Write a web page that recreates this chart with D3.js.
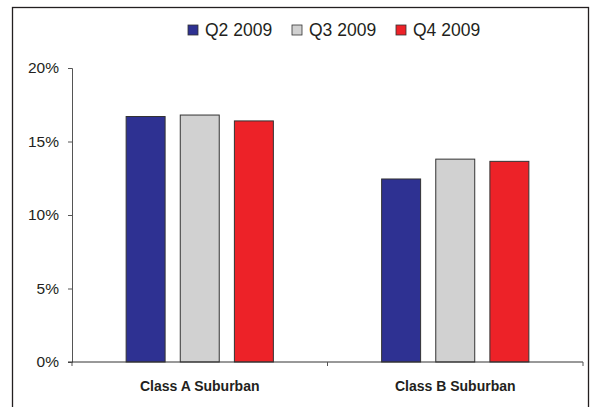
<!DOCTYPE html>
<html>
<head>
<meta charset="utf-8">
<script src="https://cdnjs.cloudflare.com/ajax/libs/d3/7.8.5/d3.min.js"></script>
<style>
  body { margin: 0; background: #fff; }
  svg text { font-family: "Liberation Sans", Arial, sans-serif; fill: #231f20; }
</style>
</head>
<body>
<script>
var width = 597,
    height = 407;

// data
var categories = ["Class A Suburban", "Class B Suburban"];
var series = ["Q2 2009", "Q3 2009", "Q4 2009"];
var colors = ["#2e3192", "#d1d1d1", "#ed2228"];
var q2 = [16.7, 12.45];
var q3 = [16.8, 13.8];
var q4 = [16.4, 13.65];
var yTicks = [0, 5, 10, 15, 20];

var values = [q2, q3, q4];

var margin = {left: 72, right: 14, top: 68, bottom: 45};

var svg = d3.select("body").append("svg")
    .attr("width", width)
    .attr("height", height);

// outer frame
svg.append("rect")
    .attr("x", 12.5).attr("y", 7.5)
    .attr("width", 576).attr("height", 420)
    .attr("fill", "none")
    .attr("stroke", "#231f20")
    .attr("stroke-width", 1.3);

var x0 = d3.scaleBand()
    .domain(categories)
    .range([margin.left, width - margin.right]);

var x1 = d3.scaleBand()
    .domain(series)
    .range([0, x0.bandwidth()])
    .paddingInner(0.28)
    .paddingOuter(1.0);

var y = d3.scaleLinear()
    .domain([0, 20])
    .range([height - margin.bottom, margin.top]);

// y axis
var yAxis = svg.append("g")
    .attr("transform", "translate(" + margin.left + ",0)")
    .call(d3.axisLeft(y).tickValues(yTicks).tickSize(4).tickPadding(9)
      .tickFormat(function(d) { return d + "%"; }));
yAxis.select(".domain").attr("stroke", "#555");
yAxis.selectAll(".tick line").attr("stroke", "#555");
yAxis.selectAll("text").style("font-size", "15.5px").attr("fill", "#231f20");

// bars
var groups = svg.selectAll("g.cat")
    .data(categories)
    .enter().append("g")
    .attr("class", "cat")
    .attr("transform", function(d) { return "translate(" + x0(d) + ",0)"; });

groups.selectAll("rect")
    .data(function(d, ci) { return series.map(function(s, si) { return {s: s, si: si, v: values[si][ci]}; }); })
    .enter().append("rect")
    .attr("x", function(d) { return x1(d.s); })
    .attr("y", function(d) { return y(d.v); })
    .attr("width", x1.bandwidth())
    .attr("height", function(d) { return y(0) - y(d.v); })
    .attr("fill", function(d) { return colors[d.si]; })
    .attr("stroke", "#333")
    .attr("stroke-width", 1);

// x axis
var xAxis = svg.append("g")
    .attr("transform", "translate(0," + y(0) + ")");
xAxis.append("line")
    .attr("x1", margin.left - 4).attr("x2", width - margin.right)
    .attr("stroke", "#333");
var xTickPos = [margin.left].concat(categories.map(function(c) { return x0(c) + x0.bandwidth(); }));
xAxis.selectAll("line.xt")
    .data(xTickPos)
    .enter().append("line")
    .attr("class", "xt")
    .attr("x1", function(d) { return d; }).attr("x2", function(d) { return d; })
    .attr("y1", 0).attr("y2", 4)
    .attr("stroke", "#555");
xAxis.selectAll("text")
    .data(categories)
    .enter().append("text")
    .attr("x", function(d) { return x0(d) + x0.bandwidth() / 2; })
    .attr("y", 29)
    .attr("text-anchor", "middle")
    .style("font-size", "14px")
    .style("font-weight", "bold")
    .text(function(d) { return d; });

// legend
var legX = d3.scaleOrdinal().domain(series).range([188, 292, 396]);
var leg = svg.selectAll("g.leg")
    .data(series)
    .enter().append("g")
    .attr("class", "leg")
    .attr("transform", function(d) { return "translate(" + legX(d) + ",25)"; });
leg.append("rect")
    .attr("width", 10).attr("height", 10)
    .attr("fill", function(d, i) { return colors[i]; })
    .attr("stroke", "#333")
    .attr("stroke-width", 0.8);
leg.append("text")
    .attr("x", 17)
    .attr("y", 11)
    .style("font-size", "17.5px")
    .text(function(d) { return d; });
</script>
</body>
</html>
